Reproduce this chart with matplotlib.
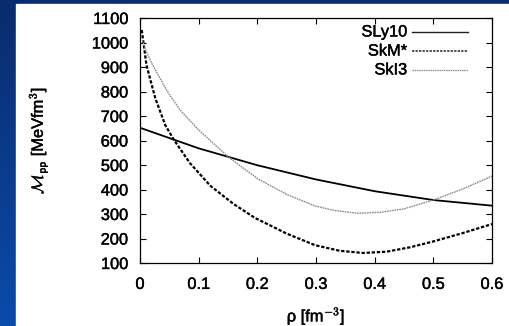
import numpy as np
import matplotlib
matplotlib.use("Agg")
import matplotlib.pyplot as plt
import matplotlib.patheffects as pe
from matplotlib.colors import LinearSegmentedColormap

plt.rcParams['font.family'] = ['Liberation Sans', 'DejaVu Sans']
plt.rcParams['mathtext.fontset'] = 'cm'

# Pairing matrix element vs density for three Skyrme forces
rho_sly10 = [0.0, 0.1, 0.2, 0.3, 0.4, 0.5, 0.6]
m_sly10 = [652, 568, 499, 441, 393, 357, 334]

rho_skm = [0.003, 0.011, 0.026, 0.043, 0.058, 0.085, 0.12, 0.16, 0.196, 0.25,
           0.298, 0.34, 0.38, 0.42, 0.46, 0.5, 0.55, 0.6]
m_skm = [1051, 908, 773, 663, 602, 508, 415, 340, 284, 220,
         173, 150, 141, 146, 164, 188, 222, 259]

rho_ski3 = [0.004, 0.0085, 0.02, 0.035, 0.048, 0.07, 0.1, 0.128, 0.152, 0.2,
            0.25, 0.298, 0.33, 0.37, 0.41, 0.45, 0.5, 0.55, 0.6]
m_ski3 = [1010, 976, 915, 850, 795, 720, 643, 582, 530, 445,
          380, 333, 315, 303, 307, 321, 357, 402, 455]

xticks = [0, 0.1, 0.2, 0.3, 0.4, 0.5, 0.6]
xtick_labels = ['0', '0.1', '0.2', '0.3', '0.4', '0.5', '0.6']
yticks = [100, 200, 300, 400, 500, 600, 700, 800, 900, 1000, 1100]

W, H = 510, 326
FS = 11.8
thick = [pe.withStroke(linewidth=0.3, foreground='black')]
fig = plt.figure(figsize=(W / 100, H / 100), dpi=100)

# slide background: blue gradient with a white panel
bg = fig.add_axes([0, 0, 1, 1], zorder=-10)
cmap = LinearSegmentedColormap.from_list('slide', ['#0a2b6c', '#0a4bab'])
grad = np.linspace(0, 1, 256).reshape(-1, 1)
bg.imshow(grad, cmap=cmap, aspect='auto', extent=[0, W, H, 0])
bg.add_patch(plt.Rectangle((16, 4), W - 16, H - 4, color='white'))
bg.set_xlim(0, W)
bg.set_ylim(H, 0)
bg.axis('off')

ax = fig.add_axes([140 / W, 1 - 263 / H, (492 - 140) / W, (263 - 18) / H])
styles = [
    dict(color='black', lw=1.3, linestyle='-'),
    dict(color='black', lw=1.6, linestyle=(0, (1.5, 0.8))),
    dict(color='#8a8a8a', lw=1.0, linestyle=(0, (1.2, 0.6))),
]
key_styles = [
    dict(color='#222222', lw=1.0, linestyle='-'),
    dict(color='#222222', lw=1.1, linestyle=(0, (1.5, 0.8))),
    dict(color='#8a8a8a', lw=0.9, linestyle=(0, (1.2, 0.6))),
]
names = ['SLy10', 'SkM*', 'SkI3']
series = [(rho_sly10, m_sly10), (rho_skm, m_skm), (rho_ski3, m_ski3)]
for (x, y), st, nm in zip(series, styles, names):
    ax.plot(x, y, label=nm, **st)

ax.set_xlim(0, 0.6)
ax.set_ylim(100, 1100)
ax.set_xticks(xticks)
ax.set_xticklabels(xtick_labels)
ax.set_yticks(yticks)
ax.tick_params(direction='in', top=True, right=True, length=4, width=0.8,
               labelsize=FS, colors='black')
ax.tick_params(axis='y', pad=8.5)
ax.tick_params(axis='x', pad=10)
for lab in ax.get_xticklabels() + ax.get_yticklabels():
    lab.set_path_effects(thick)
for s in ax.spines.values():
    s.set_linewidth(0.9)

ax.set_xlabel(r'ρ [fm$^{\mathsf{-3}}$]', fontsize=FS, path_effects=thick)
ax.set_ylabel(r'$\mathcal{M}_{\mathsf{pp}}$ [MeVfm$^{\mathsf{3}}$]', fontsize=FS,
              path_effects=thick)
ax.xaxis.set_label_coords(0.5, -0.172)
ax.yaxis.set_label_coords(-0.256, 0.5)

# key in the gnuplot manner: label on the left, line sample on the right
key_rows = [0.943, 0.865, 0.788]
for yk, st, nm in zip(key_rows, key_styles, names):
    ax.text(0.759, yk, nm, transform=ax.transAxes, ha='right', va='center',
            fontsize=FS, path_effects=thick)
    ax.plot([0.773, 0.932], [yk, yk], transform=ax.transAxes, **st)

fig.savefig('out.png', dpi=100)
